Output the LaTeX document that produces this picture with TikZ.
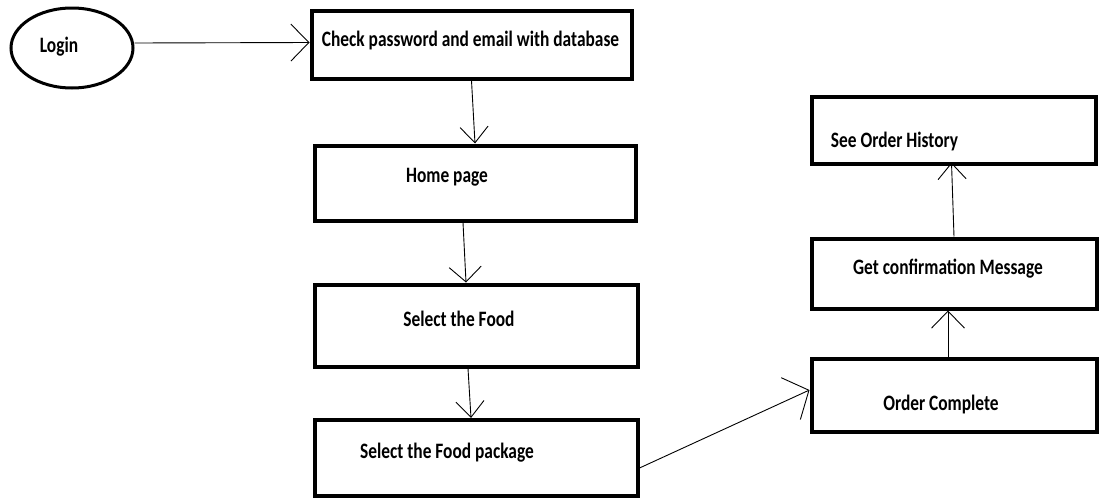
\documentclass[tikz,border=0pt]{standalone}
\usepackage{fontspec}
\setmainfont{Carlito}
\newfontfamily\flowfont{Carlito}[FakeStretch=0.79]
\usetikzlibrary{calc}
\usetikzlibrary{arrows.meta,shapes.geometric}

\begin{document}
\begin{tikzpicture}[x=1pt, y=-1pt, boxnode/.style={rectangle, draw=black, line width=4pt, inner sep=0pt}, roundnode/.style={ellipse, draw=black, line width=3pt, inner sep=0pt, minimum width=122pt, minimum height=80pt}, txt/.style={font=\flowfont\fontsize{22}{25}\selectfont\bfseries}, flow/.style={line width=0.9pt, -{Straight Barb[length=16pt,width=28pt]}}]
			\useasboundingbox (0,0) rectangle (1101,501);

			\node[roundnode] (login) at (72,48) {};
			\node[txt] (logintext) at ($(login)+(-13,-1)$) {Login};

			%left column
			\node[boxnode, minimum width=320pt, minimum height=68pt] (chk) at (471.5,44.5) {};
			\node[txt] (chktext) at ($(chk)+(-1,-4)$) {Check password and email with database};
			\node[boxnode, minimum width=321pt, minimum height=75pt] (home) at (475,183) {};
			\node[txt] (hometext) at ($(home)+(-28,-6)$) {Home page};
			\node[boxnode, minimum width=323pt, minimum height=82pt] (food) at (476,325.5) {};
			\node[txt] (foodtext) at ($(food)+(-17,-7)$) {Select the Food};
			\node[boxnode, minimum width=323pt, minimum height=76pt] (pkg) at (476,458) {};
			\node[txt] (pkgtext) at ($(pkg)+(-29,-5)$) {Select the Food package};

			%right column
			\node[boxnode, minimum width=285pt, minimum height=73pt] (order) at (954,395) {};
			\node[txt] (ordertext) at ($(order)+(-13,10)$) {Order Complete};
			\node[boxnode, minimum width=285pt, minimum height=70pt] (confirm) at (954,273.5) {};
			\node[txt] (confirmtext) at ($(confirm)+(-6,-5)$) {Get confirmation Message};
			\node[boxnode, minimum width=284pt, minimum height=67pt] (hist) at (953.5,130) {};
			\node[txt] (histtext) at ($(hist)+(-59,12)$) {See Order History};

			\draw[flow, -{Straight Barb[length=18pt,width=37pt]}] ($(login.east)+(0,-5)$) -- ($(chk.west)+(0,-2)$);
			\draw[flow] (chk.south) -- (home.north);
			\draw[flow, -{Straight Barb[length=15pt,width=32pt]}] ($(home.south)+(-12,0)$) -- ($(food.north)+(-10,0)$);
			\draw[flow] ($(food.south)+(-8,0)$) -- ($(pkg.north)+(-5,0)$);
			\draw[flow, -{Straight Barb[length=20pt,width=46pt]}] ($(pkg.east)+(0,10)$) -- ($(order.west)+(0,-5)$);
			\draw[flow, -{Straight Barb[length=17pt,width=33pt]}] ($(order.north)+(-6,0)$) -- ($(confirm.south)+(-6,0)$);
			\draw[flow] (confirm.north) -- ($(hist.south)+(-2,-3)$);

		\end{tikzpicture}
\end{document}
